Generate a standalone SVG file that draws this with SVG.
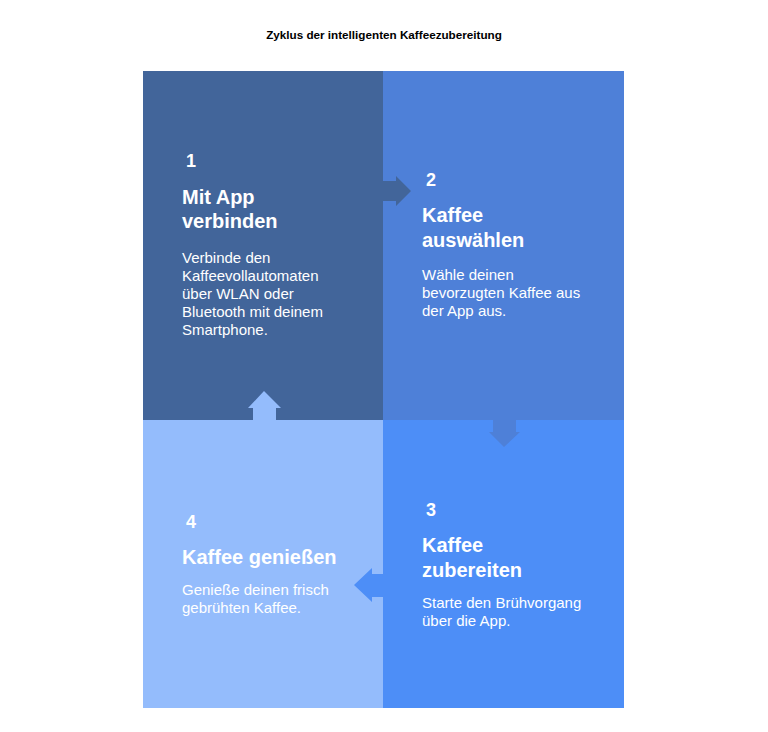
<svg xmlns="http://www.w3.org/2000/svg" width="768" height="732" viewBox="0 0 768 732">
<style>
text{font-family:"Liberation Sans",Arial,sans-serif;fill:#ffffff}
.title{font-size:11.7px;font-weight:bold;fill:#000000}
.num{font-size:18px;font-weight:bold}
.head{font-size:20px;font-weight:bold}
.body{font-size:15px}
</style>
<rect width="768" height="732" fill="#ffffff"/>
<text class="title" x="384" y="39" text-anchor="middle">Zyklus der intelligenten Kaffeezubereitung</text>
<g id="node1">
<rect x="143" y="71" width="240" height="349" fill="#42659a"/>
<text class="num" x="186" y="167">1</text>
<text class="head" x="182" y="204">Mit App</text>
<text class="head" x="182" y="228">verbinden</text>
<text class="body" x="182" y="263">Verbinde den</text>
<text class="body" x="182" y="281">Kaffeevollautomaten</text>
<text class="body" x="182" y="299">über WLAN oder</text>
<text class="body" x="182" y="317">Bluetooth mit deinem</text>
<text class="body" x="182" y="335">Smartphone.</text>
</g>
<g id="node2">
<rect x="383" y="71" width="241" height="349" fill="#4e80d8"/>
<text class="num" x="426" y="186">2</text>
<text class="head" x="422" y="222">Kaffee</text>
<text class="head" x="422" y="247">auswählen</text>
<text class="body" x="422" y="280">Wähle deinen</text>
<text class="body" x="422" y="298">bevorzugten Kaffee aus</text>
<text class="body" x="422" y="316">der App aus.</text>
</g>
<g id="node3">
<rect x="383" y="420" width="241" height="288" fill="#4d8ef7"/>
<text class="num" x="426" y="516">3</text>
<text class="head" x="422" y="552">Kaffee</text>
<text class="head" x="422" y="577">zubereiten</text>
<text class="body" x="422" y="608">Starte den Brühvorgang</text>
<text class="body" x="422" y="626">über die App.</text>
</g>
<g id="node4">
<rect x="143" y="420" width="240" height="288" fill="#94bcfc"/>
<text class="num" x="186" y="528">4</text>
<text class="head" x="182" y="564">Kaffee genießen</text>
<text class="body" x="182" y="595">Genieße deinen frisch</text>
<text class="body" x="182" y="613">gebrühten Kaffee.</text>
</g>
<g id="connectors">
<path d="M383,181 H396 V176 L411,191 L396,206 V201 H383 Z" fill="#42659a"/>
<path d="M493,420 V432 H489 L504,447 L520,432 H516 V420 Z" fill="#4e80d8"/>
<path d="M383,574 H372 V568 L354,585 L372,602 V597 H383 Z" fill="#4d8ef7"/>
<path d="M253,420 V408 H248 L264,391 L281,408 H276 V420 Z" fill="#94bcfc"/>
</g>
</svg>
